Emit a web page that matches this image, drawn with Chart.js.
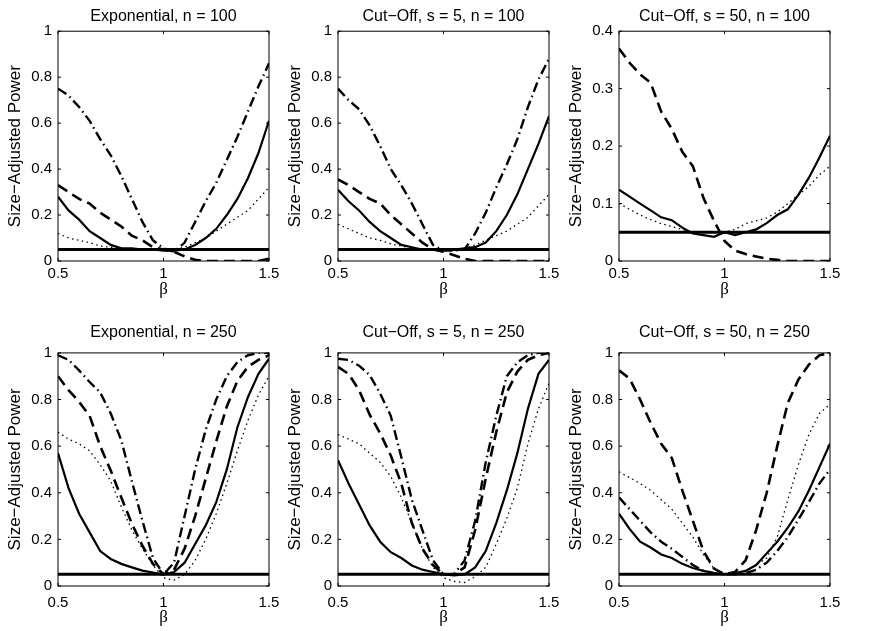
<!DOCTYPE html>
<html>
<head>
<meta charset="utf-8">
<script src="https://cdn.jsdelivr.net/npm/chart.js@4.4.1/dist/chart.umd.min.js"></script>
<style>
  html, body { margin: 0; padding: 0; background: #fff; }
  body { width: 871px; height: 631px; position: relative; overflow: hidden; }
  .panel { position: absolute; width: 288px; }
</style>
</head>
<body>
<div class="panel" style="left:0px;top:0px;height:301px"><canvas id="p1"></canvas></div>
<div class="panel" style="left:280px;top:0px;height:301px"><canvas id="p2"></canvas></div>
<div class="panel" style="left:561px;top:0px;height:301px"><canvas id="p3"></canvas></div>
<div class="panel" style="left:0px;top:310px;height:319px"><canvas id="p4"></canvas></div>
<div class="panel" style="left:280px;top:310px;height:319px"><canvas id="p5"></canvas></div>
<div class="panel" style="left:561px;top:310px;height:319px"><canvas id="p6"></canvas></div>
<script>
// beta grid shared by every panel
const beta = [0.5, 0.55, 0.6, 0.65, 0.7, 0.75, 0.8, 0.85, 0.9, 0.95, 1.0,
  1.05, 1.1, 1.15, 1.2, 1.25, 1.3, 1.35, 1.4, 1.45, 1.5];
const betaTicks = [0.5, 1, 1.5];
const sizeLevel = 0.05;

// Exponential, n = 100
const exp100Solid = [0.28, 0.22, 0.18, 0.13, 0.10, 0.07, 0.055, 0.055, 0.05, 0.05, 0.045, 0.045, 0.05, 0.07, 0.10, 0.14, 0.20, 0.27, 0.36, 0.47, 0.61];
const exp100Dashed = [0.33, 0.30, 0.27, 0.25, 0.21, 0.18, 0.15, 0.11, 0.09, 0.06, 0.05, 0.04, 0.02, 0.005, 0, 0, 0, 0, 0, 0, 0.01];
const exp100DashDot = [0.75, 0.72, 0.67, 0.61, 0.53, 0.46, 0.37, 0.27, 0.17, 0.09, 0.055, 0.04, 0.08, 0.17, 0.26, 0.34, 0.44, 0.54, 0.65, 0.76, 0.86];
const exp100Dotted = [0.12, 0.10, 0.09, 0.08, 0.065, 0.06, 0.055, 0.05, 0.05, 0.05, 0.05, 0.05, 0.06, 0.08, 0.10, 0.13, 0.16, 0.19, 0.22, 0.27, 0.32];

// Cut-Off, s = 5, n = 100
const cut5n100Solid = [0.31, 0.26, 0.22, 0.17, 0.13, 0.10, 0.07, 0.06, 0.05, 0.05, 0.05, 0.05, 0.055, 0.06, 0.08, 0.13, 0.20, 0.29, 0.40, 0.51, 0.63];
const cut5n100Dashed = [0.355, 0.33, 0.30, 0.27, 0.25, 0.20, 0.16, 0.12, 0.08, 0.05, 0.04, 0.025, 0.01, 0, 0, 0, 0, 0, 0, 0, 0];
const cut5n100DashDot = [0.75, 0.70, 0.66, 0.59, 0.50, 0.40, 0.33, 0.25, 0.16, 0.07, 0.045, 0.045, 0.05, 0.12, 0.21, 0.32, 0.42, 0.53, 0.67, 0.79, 0.88];
const cut5n100Dotted = [0.16, 0.14, 0.12, 0.10, 0.09, 0.075, 0.065, 0.055, 0.05, 0.05, 0.05, 0.05, 0.055, 0.07, 0.09, 0.11, 0.13, 0.16, 0.19, 0.24, 0.29];

// Cut-Off, s = 50, n = 100
const cut50n100Solid = [0.124, 0.112, 0.10, 0.088, 0.076, 0.071, 0.058, 0.048, 0.045, 0.042, 0.05, 0.045, 0.05, 0.055, 0.066, 0.08, 0.09, 0.115, 0.145, 0.18, 0.218];
const cut50n100Dashed = [0.37, 0.345, 0.325, 0.31, 0.26, 0.23, 0.19, 0.165, 0.11, 0.07, 0.035, 0.018, 0.012, 0.008, 0.004, 0.002, 0, 0, 0, 0, 0];
const cut50n100Dotted = [0.10, 0.09, 0.08, 0.072, 0.065, 0.06, 0.055, 0.05, 0.05, 0.05, 0.05, 0.055, 0.065, 0.07, 0.075, 0.085, 0.10, 0.115, 0.13, 0.15, 0.165];

// Exponential, n = 250
const exp250Solid = [0.57, 0.42, 0.31, 0.23, 0.15, 0.116, 0.095, 0.08, 0.066, 0.058, 0.05, 0.06, 0.10, 0.18, 0.26, 0.36, 0.50, 0.68, 0.81, 0.91, 0.975];
const exp250Dashed = [0.90, 0.84, 0.79, 0.73, 0.60, 0.495, 0.38, 0.267, 0.173, 0.095, 0.05, 0.07, 0.16, 0.30, 0.46, 0.62, 0.77, 0.88, 0.94, 0.97, 0.99];
const exp250DashDot = [0.99, 0.97, 0.925, 0.875, 0.83, 0.74, 0.625, 0.45, 0.28, 0.12, 0.05, 0.10, 0.30, 0.50, 0.67, 0.80, 0.90, 0.96, 0.99, 1.0, 1.0];
const exp250Dotted = [0.66, 0.63, 0.61, 0.58, 0.52, 0.45, 0.34, 0.24, 0.16, 0.09, 0.035, 0.025, 0.05, 0.11, 0.20, 0.31, 0.44, 0.58, 0.71, 0.82, 0.90];

// Cut-Off, s = 5, n = 250
const cut5n250Solid = [0.54, 0.44, 0.35, 0.26, 0.19, 0.145, 0.12, 0.088, 0.07, 0.06, 0.05, 0.045, 0.05, 0.08, 0.15, 0.27, 0.41, 0.57, 0.76, 0.91, 0.97];
const cut5n250Dashed = [0.94, 0.91, 0.84, 0.735, 0.655, 0.56, 0.44, 0.27, 0.16, 0.09, 0.05, 0.05, 0.08, 0.24, 0.46, 0.66, 0.83, 0.92, 0.97, 0.99, 1.0];
const cut5n250DashDot = [0.975, 0.97, 0.945, 0.905, 0.825, 0.73, 0.553, 0.37, 0.24, 0.11, 0.05, 0.05, 0.11, 0.28, 0.53, 0.73, 0.90, 0.96, 0.99, 1.0, 1.0];
const cut5n250Dotted = [0.65, 0.63, 0.61, 0.57, 0.53, 0.47, 0.38, 0.27, 0.16, 0.08, 0.035, 0.02, 0.015, 0.04, 0.08, 0.18, 0.29, 0.42, 0.61, 0.76, 0.87];

// Cut-Off, s = 50, n = 250
const cut50n250Solid = [0.31, 0.245, 0.19, 0.165, 0.135, 0.12, 0.095, 0.077, 0.065, 0.055, 0.05, 0.055, 0.065, 0.09, 0.14, 0.19, 0.25, 0.32, 0.41, 0.51, 0.61];
const cut50n250Dashed = [0.925, 0.89, 0.80, 0.70, 0.61, 0.55, 0.41, 0.28, 0.15, 0.075, 0.05, 0.06, 0.11, 0.24, 0.40, 0.60, 0.785, 0.885, 0.95, 0.99, 1.0];
const cut50n250DashDot = [0.38, 0.33, 0.28, 0.23, 0.19, 0.16, 0.125, 0.09, 0.065, 0.055, 0.05, 0.05, 0.055, 0.07, 0.10, 0.15, 0.21, 0.285, 0.36, 0.44, 0.50];
const cut50n250Dotted = [0.49, 0.465, 0.44, 0.41, 0.37, 0.33, 0.27, 0.21, 0.135, 0.075, 0.05, 0.055, 0.065, 0.09, 0.12, 0.21, 0.37, 0.52, 0.65, 0.74, 0.78];

const FONT = "'Liberation Sans', Arial, Helvetica, sans-serif";

const styles = {
  solid: { borderWidth: 2.2, borderDash: [] },
  dashed: { borderWidth: 2.6, borderDash: [11, 6] },
  dashDot: { borderWidth: 2.4, borderDash: [10, 4, 1.5, 4] },
  dotted: { borderWidth: 1.3, borderDash: [1.5, 3.5] },
};

// plain number labels: 1 instead of 1.0
const plainTick = (v) => String(Number(Number(v).toFixed(2)));

// MATLAB-like frame with inward ticks on all four sides
const frameTicks = {
  id: "frameTicks",
  afterDatasetsDraw(chart) {
    const { ctx, chartArea: a, scales } = chart;
    const len = 3;
    ctx.save();
    ctx.strokeStyle = "#000";
    ctx.lineWidth = 1;
    ctx.strokeRect(a.left, a.top, a.right - a.left, a.bottom - a.top);
    ctx.beginPath();
    scales.x.ticks.forEach((t) => {
      const px = scales.x.getPixelForValue(t.value);
      ctx.moveTo(px, a.bottom);
      ctx.lineTo(px, a.bottom - len);
      ctx.moveTo(px, a.top);
      ctx.lineTo(px, a.top + len);
    });
    scales.y.ticks.forEach((t) => {
      const py = scales.y.getPixelForValue(t.value);
      ctx.moveTo(a.left, py);
      ctx.lineTo(a.left + len, py);
      ctx.moveTo(a.right, py);
      ctx.lineTo(a.right - len, py);
    });
    ctx.stroke();
    ctx.restore();
  },
};

const rows = [
  { titlePad: { top: 7.2, bottom: 4.8 }, xHeight: 40, tickPad: 4, betaPad: 1.5 },
  { titlePad: { top: 12.9, bottom: 10.8 }, xHeight: 43, tickPad: 8, betaPad: 1.5 },
];

function makePanel(id, title, row, yMax, yStep, series) {
  const datasets = series.map(([vals, kind]) => ({
    data: beta.map((b, i) => ({ x: b, y: vals[i] })),
    borderColor: "#000",
    backgroundColor: "#000",
    pointRadius: 0,
    fill: false,
    tension: 0,
    ...styles[kind],
  }));
  datasets.push({
    data: [
      { x: beta[0], y: sizeLevel },
      { x: beta[beta.length - 1], y: sizeLevel },
    ],
    borderColor: "#000",
    borderWidth: 3,
    pointRadius: 0,
  });

  new Chart(document.getElementById(id), {
    type: "line",
    data: { datasets },
    options: {
      responsive: true,
      maintainAspectRatio: false,
      animation: false,
      layout: { padding: { left: 0, right: 19, top: 0, bottom: 0 } },
      plugins: {
        legend: { display: false },
        tooltip: { enabled: false },
        title: {
          display: true,
          text: title,
          fullSize: false,
          color: "#000",
          font: { family: FONT, size: 16, weight: "normal" },
          padding: row.titlePad,
        },
      },
      scales: {
        x: {
          type: "linear",
          min: 0.5,
          max: 1.5,
          afterBuildTicks: (s) => {
            s.ticks = betaTicks.map((v) => ({ value: v }));
          },
          afterFit: (s) => {
            s.height = row.xHeight;
          },
          grid: { display: false, drawTicks: false },
          border: { display: false },
          ticks: {
            color: "#000",
            padding: row.tickPad,
            maxRotation: 0,
            callback: plainTick,
            font: { family: FONT, size: 15 },
          },
          title: {
            display: true,
            text: "β",
            color: "#000",
            font: { family: "'Liberation Serif', 'DejaVu Serif', serif", size: 17 },
            padding: { top: 0, bottom: row.betaPad },
          },
        },
        y: {
          type: "linear",
          min: 0,
          max: yMax,
          ticks: {
            stepSize: yStep,
            color: "#000",
            padding: 6,
            callback: plainTick,
            font: { family: FONT, size: 15 },
          },
          afterFit: (s) => {
            s.width = 58;
          },
          grid: { display: false, drawTicks: false },
          border: { display: false },
          title: {
            display: true,
            text: "Size\u2212Adjusted Power",
            color: "#000",
            font: { family: FONT, size: 17 },
            padding: { top: 4.8, bottom: 0 },
          },
        },
      },
    },
    plugins: [frameTicks],
  });
}

makePanel("p1", "Exponential, n = 100", rows[0], 1, 0.2, [
  [exp100Solid, "solid"], [exp100Dashed, "dashed"], [exp100DashDot, "dashDot"], [exp100Dotted, "dotted"],
]);
makePanel("p2", "Cut\u2212Off, s = 5, n = 100", rows[0], 1, 0.2, [
  [cut5n100Solid, "solid"], [cut5n100Dashed, "dashed"], [cut5n100DashDot, "dashDot"], [cut5n100Dotted, "dotted"],
]);
makePanel("p3", "Cut\u2212Off, s = 50, n = 100", rows[0], 0.4, 0.1, [
  [cut50n100Solid, "solid"], [cut50n100Dashed, "dashed"], [cut50n100Dotted, "dotted"],
]);
makePanel("p4", "Exponential, n = 250", rows[1], 1, 0.2, [
  [exp250Solid, "solid"], [exp250Dashed, "dashed"], [exp250DashDot, "dashDot"], [exp250Dotted, "dotted"],
]);
makePanel("p5", "Cut\u2212Off, s = 5, n = 250", rows[1], 1, 0.2, [
  [cut5n250Solid, "solid"], [cut5n250Dashed, "dashed"], [cut5n250DashDot, "dashDot"], [cut5n250Dotted, "dotted"],
]);
makePanel("p6", "Cut\u2212Off, s = 50, n = 250", rows[1], 1, 0.2, [
  [cut50n250Solid, "solid"], [cut50n250Dashed, "dashed"], [cut50n250DashDot, "dashDot"], [cut50n250Dotted, "dotted"],
]);
</script>
</body>
</html>
